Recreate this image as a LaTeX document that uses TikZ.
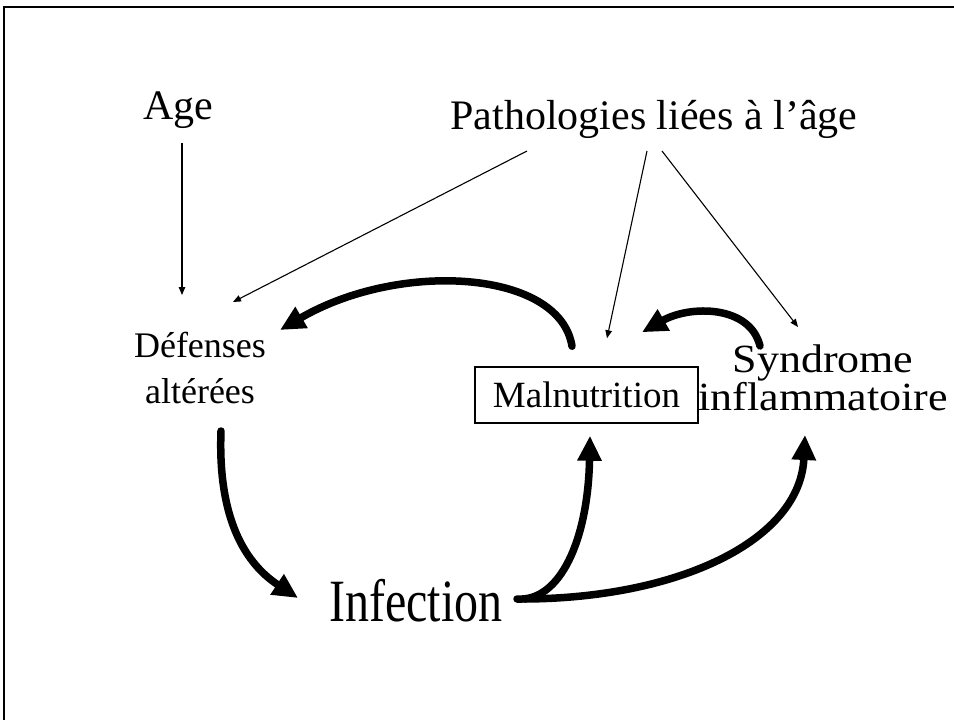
\documentclass[tikz,border=0pt]{standalone}
\usepackage{fontspec}
\setmainfont{Liberation Serif}
\usetikzlibrary{arrows.meta}
\begin{document}
\begin{tikzpicture}[x=1pt,y=-1pt,
  lbl/.style={inner sep=0pt, anchor=base, align=center},
  thinarrow/.style={line width=1.1pt,-{Triangle[length=8pt,width=6.5pt]}},
  thickarrow/.style={line width=7.5pt, line cap=round, -{Triangle[length=25pt,width=23pt]}}]
\useasboundingbox (0,0) rectangle (954,720);
\draw[line width=2.6pt, line join=miter] (4,722) -- (4,7) -- (956,7);

\node[lbl, font=\fontsize{42}{46}\selectfont] (age) at (178,119) {Age};
\node[lbl, font=\fontsize{42}{46}\selectfont] (path) at (654,129) {Pathologies liées à l’âge};
\node[lbl, font=\fontsize{36}{46}\selectfont] (def) at (200,403) {Défenses\\altérées};
\node[draw, line width=1.5pt, minimum width=223pt, minimum height=56pt, inner sep=0pt,
      font=\fontsize{37}{40}\selectfont] (mal) at (586.5,395) {Malnutrition};
\node[lbl, font=\fontsize{40}{38}\selectfont] (syn) at (823,410) {\scalebox{1.1}[1]{Syndrome}\\\scalebox{1.1}[1]{inflammatoire}};
\node[lbl, font=\fontsize{60}{60}\selectfont] (inf) at (416,621) {\scalebox{0.8}[1]{Infection}};

\draw[thinarrow] ([shift={(4,24)}]age.base) -- ([shift={(-18,-108)}]def.base);
\draw[thinarrow] ([shift={(-127,22)}]path.base) -- ([shift={(33,-101)}]def.base);
\draw[thinarrow] ([shift={(-7,22)}]path.base) -- ([shift={(20.5,-28)}]mal.north);
\draw[thinarrow] ([shift={(8,22)}]path.base) -- ([shift={(-25,-83)}]syn.base);

\draw[thickarrow] ([shift={(-14.5,-20)}]mal.north) .. controls (560,270) and (400,260) .. ([shift={(80,-73)}]def.base);
\draw[thickarrow] ([shift={(21,28)}]def.base) .. controls (218,510) and (240,560) .. ([shift={(-118,-23)}]inf.base);
\draw[thickarrow] ([shift={(101,-22)}]inf.base) .. controls (560,602) and (588,540) .. ([shift={(3.5,12)}]mal.south);
\draw[thickarrow] ([shift={(109,-22)}]inf.base) .. controls (680,598) and (800,540) .. ([shift={(-18,25)}]syn.base);
\draw[thickarrow] ([shift={(-63,-64)}]syn.base) .. controls (750,305) and (690,305) .. ([shift={(55.5,-34)}]mal.north);
\end{tikzpicture}
\end{document}
